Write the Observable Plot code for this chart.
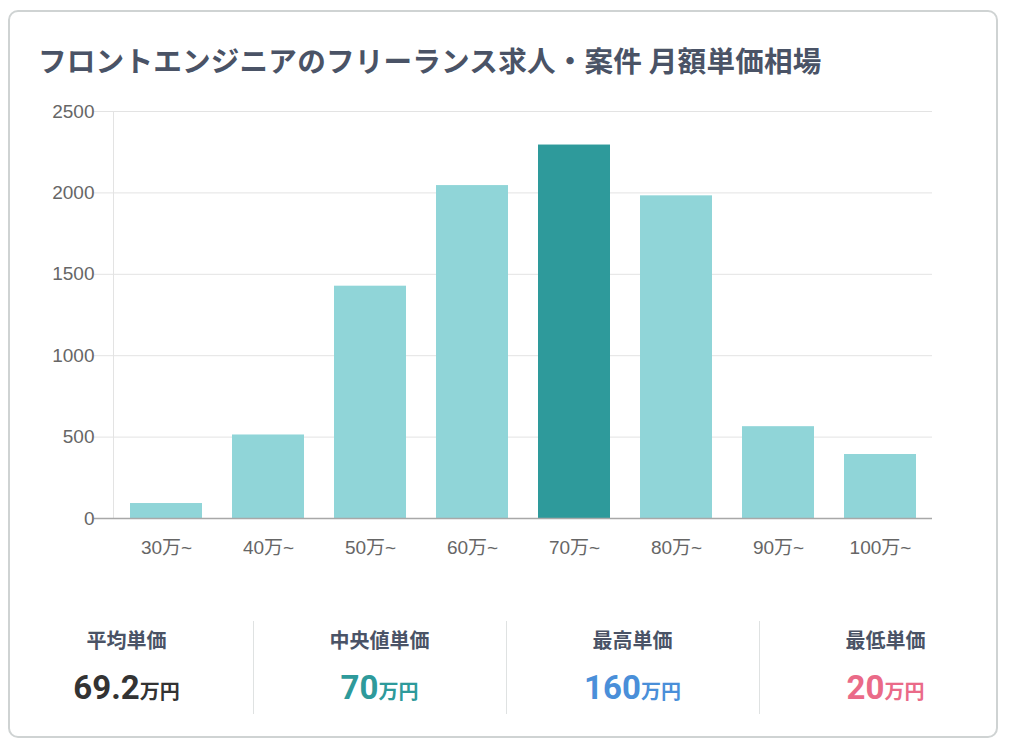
<!DOCTYPE html>
<html lang="ja">
<head>
<meta charset="utf-8">
<script src="https://cdn.jsdelivr.net/npm/d3@7"></script>
<script src="https://cdn.jsdelivr.net/npm/@observablehq/plot@0.6"></script>
<style>
  html, body { margin: 0; padding: 0; background: #fff; }
  body { width: 1024px; height: 751px; position: relative; overflow: hidden;
         font-family: "Noto Sans CJK JP", "Noto Sans", sans-serif; }
  #card { position: absolute; left: 8px; top: 10px; width: 990px; height: 728px;
          border: 2px solid #cfd3d3; border-radius: 10px; box-sizing: border-box; }
  #title { position: absolute; left: 38px; top: 39px; font-size: 28.6px; font-weight: 700;
           color: #4a5366; white-space: nowrap; letter-spacing: 0.2px; }
  #chart { position: absolute; left: 0; top: 90px; }
  #stats { position: absolute; left: 0; top: 621px; width: 1012px; height: 93px; display: flex; }
  .col { flex: 1; text-align: center; position: relative; }
  .col + .col::before { content: ""; position: absolute; left: 0; top: 0; bottom: 0; width: 1px; background: #dfe2e2; }
  .lab { margin-top: 6px; font-size: 20px; font-weight: 700; color: #4a5366; line-height: 26px; }
  .val { margin-top: 17px; font-size: 33px; font-weight: 700; line-height: 36px; font-family: "Roboto", "Noto Sans CJK JP", sans-serif; }
  .val span { font-size: 20px; font-family: "Noto Sans CJK JP", sans-serif; }
</style>
</head>
<body>
<div id="card"></div>
<div id="title">フロントエンジニアのフリーランス求人・案件 月額単価相場</div>
<div id="chart"></div>
<div id="stats"></div>
<script>
const categories = ["30万~", "40万~", "50万~", "60万~", "70万~", "80万~", "90万~", "100万~"];
const counts = [92, 513, 1427, 2045, 2294, 1982, 564, 393];
const highlight = "70万~";
const yTicks = [0, 500, 1000, 1500, 2000, 2500];

const statLabels = ["平均単価", "中央値単価", "最高単価", "最低単価"];
const statValues = ["69.2", "70", "160", "20"];
const statUnit = "万円";
const statColors = ["#333333", "#2e9a9b", "#4a8fd9", "#ea6a88"];

const data = categories.map((c, i) => ({cat: c, n: counts[i]}));

const chart = Plot.plot({
  width: 1024,
  height: 490,
  marginLeft: 113,
  marginRight: 92,
  marginTop: 21,
  marginBottom: 62,
  style: {fontFamily: "'Liberation Sans', 'Noto Sans CJK JP', sans-serif", fontSize: "19px", background: "transparent"},
  x: {domain: categories, paddingInner: 0.295, paddingOuter: 0.15, label: null},
  y: {domain: [0, 2500], label: null},
  marks: [
    Plot.gridY(yTicks, {stroke: "#e3e3e3", strokeOpacity: 1, insetLeft: -19}),
    Plot.frame({anchor: "left", stroke: "#e3e3e3"}),
    Plot.barY(data, {x: "cat", y: "n", fill: d => d.cat === highlight ? "#2e9a9b" : "#90d5d8"}),
    Plot.ruleY([0], {stroke: "#a8a8a8", strokeWidth: 1.5, insetLeft: -19}),
    Plot.axisY(yTicks, {tickSize: 0, tickPadding: 19, fill: "#666", fontSize: 19, tickFormat: d => String(d)}),
    Plot.axisX({tickSize: 0, tickPadding: 22, fill: "#666", fontSize: 19})
  ]
});
document.getElementById("chart").appendChild(chart);

const stats = document.getElementById("stats");
statLabels.forEach((l, i) => {
  const col = document.createElement("div");
  col.className = "col";
  col.innerHTML = `<div class="lab">${l}</div><div class="val" style="color:${statColors[i]}">${statValues[i]}<span>${statUnit}</span></div>`;
  stats.appendChild(col);
});
</script>
</body>
</html>
